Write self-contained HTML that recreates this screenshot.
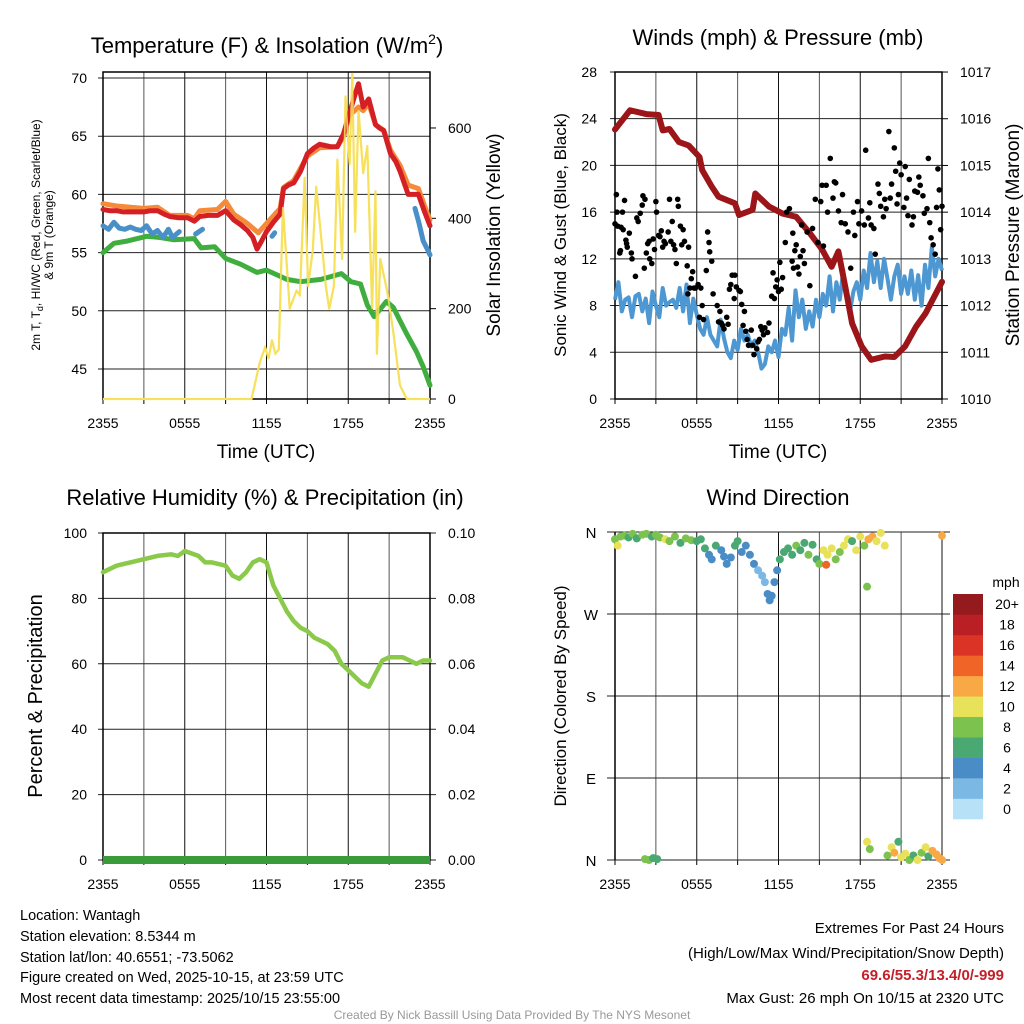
<!DOCTYPE html>
<html><head><meta charset="utf-8">
<style>
html,body{margin:0;padding:0;background:#fff;}
svg{display:block;font-family:"Liberation Sans",Arial,sans-serif;}
</style></head>
<body>
<svg id="c" xmlns="http://www.w3.org/2000/svg" width="1024" height="1024" viewBox="0 0 1024 1024">
<rect width="1024" height="1024" fill="#fff"/>
<text x="267" y="53" font-size="22" text-anchor="middle">Temperature (F) &amp; Insolation (W/m<tspan font-size="14" dy="-9">2</tspan><tspan dy="9">)</tspan></text>
<text x="778" y="45" font-size="22" text-anchor="middle">Winds (mph) &amp; Pressure (mb)</text>
<text x="265" y="505" font-size="22" text-anchor="middle">Relative Humidity (%) &amp; Precipitation (in)</text>
<text x="778" y="505" font-size="22" text-anchor="middle">Wind Direction</text>

<text x="266" y="458" font-size="19" text-anchor="middle">Time (UTC)</text>
<text x="778" y="458" font-size="19" text-anchor="middle">Time (UTC)</text>

<text transform="translate(40,235) rotate(-90)" font-size="12" text-anchor="middle">2m T, T<tspan font-size="9" dy="3">d</tspan><tspan dy="-3">, HI/WC (Red, Green, Scarlet/Blue)</tspan></text>
<text transform="translate(53,235) rotate(-90)" font-size="12" text-anchor="middle">&amp; 9m T (Orange)</text>
<text transform="translate(500,235) rotate(-90)" font-size="19" text-anchor="middle">Solar Insolation (Yellow)</text>
<text transform="translate(566,235) rotate(-90)" font-size="17" text-anchor="middle">Sonic Wind &amp; Gust (Blue, Black)</text>
<text transform="translate(1019,235) rotate(-90)" font-size="19" text-anchor="middle">Station Pressure (Maroon)</text>
<text transform="translate(42,696) rotate(-90)" font-size="20" text-anchor="middle">Percent &amp; Precipitation</text>
<text transform="translate(566,696) rotate(-90)" font-size="17" text-anchor="middle">Direction (Colored By Speed)</text>

<g font-size="14.5">
<text x="20" y="920">Location: Wantagh</text>
<text x="20" y="941">Station elevation: 8.5344 m</text>
<text x="20" y="962">Station lat/lon: 40.6551; -73.5062</text>
<text x="20" y="982">Figure created on Wed, 2025-10-15, at 23:59 UTC</text>
<text x="20" y="1003">Most recent data timestamp: 2025/10/15 23:55:00</text>
</g>
<g font-size="15" text-anchor="end">
<text x="1004" y="933">Extremes For Past 24 Hours</text>
<text x="1004" y="958">(High/Low/Max Wind/Precipitation/Snow Depth)</text>
<text x="1004" y="980" fill="#c4202a" font-weight="bold">69.6/55.3/13.4/0/-999</text>
<text x="1004" y="1003">Max Gust: 26 mph On 10/15 at 2320 UTC</text>
</g>
<text x="512" y="1019" font-size="12" fill="#999" text-anchor="middle">Created By Nick Bassill Using Data Provided By The NYS Mesonet</text>
</svg>
<script>
// ---------- data ----------
const xTickLabels = ["2355","0555","1155","1755","2355"];
const tempTicks = [45,50,55,60,65,70];
const solarTicks = [0,200,400,600];
const windTicks = [0,4,8,12,16,20,24,28];
const presTicks = [1010,1011,1012,1013,1014,1015,1016,1017];
const rhTicks = [0,20,40,60,80,100];
const precipTicks = ["0.00","0.02","0.04","0.06","0.08","0.10"];
const dirLabels = ["N","E","S","W","N"];
const dirTickVals = [0,90,180,270,360];

const redT = [0,0.5,1,1.5,2,2.5,3,3.5,4,4.5,4.9,5.5,6.2,6.7,7.1,7.7,8.4,9.0,9.6,10.1,10.6,11.0,11.3,11.6,12.0,12.5,13.0,13.25,13.6,14.0,14.5,15.0,15.5,15.9,16.3,16.7,17.2,17.65,18.1,18.4,18.75,19.1,19.5,20.0,20.3,20.6,21.1,21.5,21.8,22.1,22.4,22.8,23.15,23.6,24];
const redV = [58.7,58.6,58.6,58.5,58.5,58.5,58.5,58.6,58.6,58.3,58.1,58.0,58.0,57.7,58.1,58.2,58.2,58.6,57.8,57.4,56.9,56.3,55.3,55.9,56.8,57.6,58.3,60.5,60.8,61.0,62.0,63.5,64.0,64.3,64.2,64.1,64.1,65.2,67.0,68.2,69.5,67.5,68.2,66.0,65.7,65.5,63.5,62.8,62.0,61.0,60.0,60.0,60.0,58.5,57.3];
const orangeT = [0,1,2,3,4,4.9,5.5,6.2,6.7,7.1,8.4,9.0,9.6,10.6,11.4,12.0,13.0,13.25,14.0,15.0,15.9,17.2,17.65,18.1,18.75,19.1,19.5,20.0,20.6,21.1,21.8,22.4,23.15,23.6,24];
const orangeV = [59.2,59.0,58.9,58.8,58.9,58.2,58.2,58.2,57.9,58.6,58.7,59.4,58.3,57.5,56.7,57.5,58.8,60.6,61.2,63.3,64.0,64.1,65.0,66.8,67.5,67.2,67.8,66.0,65.5,63.8,62.5,60.8,60.5,59.0,57.8];
const blueT = [0,0.4,0.8,1.2,1.6,2.0,2.4,2.8,3.2,3.6,4.0,4.4,4.8,5.1,5.6,null,6.8,7.3,null,12.4,12.6,null,22.9,23.2,23.5,23.8,24];
const blueV = [57.3,57.0,57.6,57.1,57.0,57.2,57.0,56.9,57.3,56.6,56.9,56.3,57.0,56.3,56.8,null,56.6,57.0,null,56.4,56.7,null,58.8,57.5,56.0,55.3,54.8];
const greenT = [0,0.8,1.8,3.2,4.2,5.2,6.7,7.2,8.2,9.0,10.1,11.3,12.0,13.5,14.5,16.0,17.5,18.2,18.9,19.4,19.9,20.8,21.3,22.3,23.0,23.5,24];
const greenV = [55.0,55.8,56.0,56.4,56.3,56.1,56.2,55.4,55.5,54.5,54.0,53.3,53.5,52.7,52.5,52.7,53.2,52.5,52.3,50.5,49.5,50.8,50.3,48.0,46.5,45.2,43.6];
const solarT = [0,10.9,11.5,11.9,12.15,12.4,12.65,12.9,13.2,13.7,14.2,14.45,14.8,15.05,15.4,15.65,16.1,16.35,16.6,16.95,17.2,17.55,17.8,18.1,18.3,18.5,18.75,19.1,19.4,19.75,20.0,20.1,20.35,20.85,21.3,21.8,22.3,24];
const solarV = [0,0,80,115,90,130,100,110,425,200,240,230,490,250,330,470,330,250,200,250,530,310,670,520,720,370,640,500,560,200,460,100,310,240,150,30,0,0];

const windT = [];
for (let i = 0; i < 97; i++) windT.push(i * 0.25);
const windV = [8.5,10,7.5,8.5,8.7,7,8.8,9,7.5,8.6,6.5,9.2,8,
7,9.5,8,8.3,8.5,7.8,9.5,7.5,9.8,6.5,8.6,7.2,
6,5.5,7,5.5,5,4.5,6.8,5.2,4,3.5,5,4.2,
6,5,5.5,4.5,5,4,2.6,3,4.5,4,5,3.6,
6,5.5,7.8,5,9.3,7,8.5,6,7.5,6.2,8.5,7,
9,8,10.5,7.5,10,8.5,11,9,7.5,9.2,10,8.5,
11,9.5,12.5,10,11.8,9.5,12,10.3,8.5,10.5,11.5,9,
10.5,9,11,8.5,10.6,8,11.5,9.5,13,10.5,12,11];
const presT = [0,1.1,2.3,3.2,3.5,4.0,4.7,5.4,6.2,6.4,7.1,7.6,8.8,9.1,10.1,10.3,11.3,12.3,13.3,14.3,15.2,15.9,16.4,16.9,17.4,18.1,18.8,19.8,20.5,21.3,22.1,22.8,23.3,24];
const presV = [1015.77,1016.18,1016.1,1016.08,1015.75,1015.78,1015.5,1015.43,1015.18,1014.9,1014.55,1014.33,1014.19,1013.94,1014.05,1014.4,1014.12,1013.97,1013.9,1013.55,1013.2,1012.83,1013.16,1012.4,1011.62,1011.13,1010.84,1010.91,1010.9,1011.13,1011.55,1011.84,1012.12,1012.51];
const gustT = [0,0.1,0.15,0.2,0.35,0.4,0.45,0.55,0.6,0.7,0.8,0.85,0.9,1.05,1.2,1.25,1.5,1.6,1.7,1.85,2.0,2.05,2.15,2.2,2.3,2.4,2.5,2.55,2.7,2.8,2.9,3.0,3.05,3.2,3.3,3.4,3.5,3.6,3.7,3.9,4.0,4.1,4.2,4.3,4.4,4.5,4.6,4.65,4.8,4.9,5.0,5.1,5.3,5.35,5.4,5.5,5.6,5.7,5.8,5.9,6.1,6.2,6.3,6.4,6.5,6.7,6.8,6.9,6.95,7.1,7.2,7.5,7.6,7.7,7.8,7.9,8.0,8.2,8.3,8.4,8.5,8.6,8.75,8.8,8.9,9.1,9.2,9.3,9.4,9.5,9.6,9.7,9.8,10.0,10.1,10.2,10.4,10.5,10.6,10.7,10.8,10.9,11.0,11.2,11.3,11.5,11.6,11.7,11.8,11.9,12.0,12.1,12.2,12.3,12.5,12.6,12.8,13.0,13.05,13.1,13.2,13.3,13.4,13.5,13.6,13.7,13.8,13.9,14.1,14.3,14.5,14.7,14.9,15.1,15.2,15.3,15.5,15.6,15.8,16.0,16.1,16.2,16.4,16.6,16.7,16.9,17.1,17.3,17.5,17.6,17.8,17.9,18.1,18.3,18.4,18.6,18.7,18.8,19.0,19.1,19.3,19.4,19.5,19.7,19.8,19.9,20.1,20.2,20.3,20.5,20.6,20.7,20.8,20.9,21.0,21.2,21.3,21.4,21.5,21.6,21.8,21.9,22.0,22.2,22.3,22.4,22.6,22.7,22.9,23.0,23.1,23.2,23.35,23.5,23.6,23.7,23.8,23.9,24];
const gustV = [15,17.5,16,14.8,12.5,12.7,14.7,16,14.5,17,13.6,13.3,13,14.2,12.5,12,10.5,15.5,15.2,15.9,16.6,17.4,11.2,17.1,12.5,13.3,13.5,12,11.6,13.7,12.8,16.9,16,14,13.9,14.4,13,13.5,13.3,14.3,17.1,13.5,15.2,13.2,12.8,11.6,17.1,16.5,14.8,13.2,14.5,13.5,11.4,9,13,9.5,10.3,10.9,9.5,9.5,9.8,7,9.5,8,6.8,11,14.3,13.4,12.6,11.8,9,8,6.6,7.5,6.5,6.3,6,7,6.4,9.4,9.8,10.6,8.6,10.6,9.6,9.3,9.2,8.1,6.3,7.5,5.8,5.1,4.6,5.9,4.6,3.8,4.3,4.9,5.1,6.2,5.9,5.5,6.1,5.7,6.5,8.8,10.8,8.6,9.6,10.2,9.2,11.7,9.4,10.4,13.4,16,16.3,11.8,14.2,11.2,12.7,13.2,11.3,10.7,12.2,14.9,12.7,11.6,14.3,9.7,14.6,17.1,13.4,16.9,18.3,13.1,18.3,16,20.6,17.2,18.6,18.5,16.1,15.1,17.5,15,14.3,11.2,16,14,16.9,15,16.1,14.9,21.3,15.5,16.8,14.9,14.6,12.4,18.4,17.6,16.5,15.6,17.1,16.3,22.9,17.2,18.4,21.5,19.5,16.7,17.5,20.2,19.2,16.4,19.9,17.2,15.7,18.8,14.9,15.6,17.8,17.7,19,18.3,17.4,15.9,16.3,20.6,15.1,13.8,13.2,12.4,16.4,19.7,17.9,14.5,16.5,18.4,18.3,16.6,26,24.1,21.3,22,19];

const rhT = [0,1,2,3,4,5,5.5,6,7,7.5,8,9,9.5,10,10.5,11,11.5,12,12.5,13,13.5,14,14.5,15,15.5,16,16.5,17,17.5,18,18.5,19,19.5,20,20.5,21,21.5,22,22.5,23,23.5,24];
const rhV = [88,90,91,92,93,93.5,93,94.5,93,91,91,90,87,86,88,91,92,91,84,80,76,73,71,70,68,67,66,64,60,58,56,54,53,57,61,62,62,62,61,60,61,61];
const precipV = [0,0];

const dirT = [0,0.2,0.4,0.7,1.0,1.3,1.6,2.0,2.3,2.7,3.0,3.3,3.7,4.0,4.4,4.8,5.2,5.6,6.0,6.3,6.6,6.9,7.1,7.4,7.8,8.0,8.2,8.5,8.8,9.0,9.3,9.6,9.9,10.2,10.5,10.8,11.0,11.2,11.35,11.5,11.7,11.9,12.1,12.4,12.7,13.0,13.3,13.6,13.9,14.2,14.5,14.8,15.0,15.3,15.5,15.6,15.9,16.2,16.5,16.8,17.1,17.4,17.7,18.0,18.3,18.5,18.6,18.9,19.2,19.5,19.8,24,2.2,2.5,2.8,3.1,18.5,18.7,20.0,20.3,20.5,20.8,21.0,21.3,21.6,21.9,22.2,22.5,22.8,23.0,23.3,23.6,23.8,24];
const dirV = [352,345,355,356,354,358,353,357,358,355,357,354,352,350,355,348,353,351,350,352,342,335,330,345,340,333,325,332,345,350,338,345,335,325,318,312,305,292,285,290,305,318,330,338,342,335,345,340,348,335,346,330,325,340,324,335,342,330,338,345,352,350,340,355,345,300,352,355,350,359,345,356,1,0,2,1,20,12,5,14,8,20,3,7,0,5,0,8,14,4,10,6,2,0];
const dirSpd = [8,10,8,8,7,8,6,8,8,7,8,8,10,8,8,6,8,8,7,6,6,4,4,6,4,4,4,5,6,6,4,4,4,4,3,2,3,4,4,4,4,4,6,6,6,6,8,6,6,8,6,6,8,10,14,10,10,8,8,10,10,6,10,10,8,8,12,12,10,10,10,12,8,8,6,6,10,8,8,10,12,6,10,10,8,6,10,8,10,6,12,12,12,12];
const cbLabels = ["0","2","4","6","8","10","12","14","16","18","20+"];
const cbColors = ["#b6e1f6","#7bb8e3","#4a8dc6","#4aa873","#7cc24e","#e8e15a","#f8a946","#f06428","#dc3327","#bb1f26","#941a1d"];

// ---------- drawing ----------
const svg = document.getElementById('c');
const NS = "http://www.w3.org/2000/svg";
function el(tag, attrs, parent) {
  const e = document.createElementNS(NS, tag);
  for (const k in attrs) e.setAttribute(k, attrs[k]);
  (parent || svg).appendChild(e);
  return e;
}
function txt(x, y, s, size, anchor, parent) {
  const t = el('text', {x: x, y: y, 'font-size': size, 'text-anchor': anchor}, parent);
  t.textContent = s;
  return t;
}
function pathFrom(ts, vs, xf, yf) {
  let d = "", pen = false;
  for (let i = 0; i < ts.length; i++) {
    if (ts[i] === null || vs[i] === null) { pen = false; continue; }
    d += (pen ? "L" : "M") + xf(ts[i]).toFixed(1) + "," + yf(vs[i]).toFixed(1);
    pen = true;
  }
  return d;
}
function frame(x0, x1, yT, yB, name) {
  const g = el('g', {});
  
  
  for (let h = 0; h <= 24; h += 3) {
    const x = x0 + (x1 - x0) * h / 24;
    const l = el('line', {x1: x, x2: x, y1: yT, y2: yB, stroke: h % 6 ? '#555' : '#111', 'stroke-width': 1}, g);
    
    
    el('line', {x1: x, x2: x, y1: yB, y2: yB + 5, stroke: '#000'}, g);
  }
  return g;
}
function xLabels(x0, x1, y, name) {
  for (let i = 0; i < xTickLabels.length; i++) {
    const t = txt(x0 + (x1 - x0) * i / 4, y, xTickLabels[i], 14, 'middle');
    
    
  }
}

// Panel 1: Temperature
(function(){
  const x0 = 103, x1 = 430, yT = 72, yB = 399;
  const X = h => x0 + (x1 - x0) * h / 24;
  const Y = v => 78 + (70 - v) * 11.64;
  const YS = v => 399 - v * 0.4517;
  frame(x0, x1, yT, yB, 'temp');
  tempTicks.forEach(v => {
    const l = el('line', {x1: x0 - 5, x2: x1, y1: Y(v), y2: Y(v), stroke: '#222'});
    
    
    const t = txt(87, Y(v) + 5, String(v), 14, 'end');
    
    
  });
  solarTicks.forEach(v => {
    el('line', {x1: x1, x2: x1 + 6, y1: YS(v), y2: YS(v), stroke: '#000'});
    const t = txt(448, YS(v) + 5, String(v), 14, 'start');
    
    
  });
  el('rect', {x: x0, y: yT, width: x1 - x0, height: yB - yT, fill: 'none', stroke: '#000', 'stroke-width': 1.5});
  const s = el('path', {d: pathFrom(solarT, solarV, X, YS), fill: 'none', stroke: '#f7e15c', 'stroke-width': 2.2, 'stroke-linejoin': 'round'});
  
  
  const g = el('path', {d: pathFrom(greenT, greenV, X, Y), fill: 'none', stroke: '#3fae3f', 'stroke-width': 5, 'stroke-linejoin': 'round', 'stroke-linecap': 'round'});
  
  
  const b = el('path', {d: pathFrom(blueT, blueV, X, Y), fill: 'none', stroke: '#4a90c8', 'stroke-width': 5, 'stroke-linejoin': 'round', 'stroke-linecap': 'round'});
  
  
  const o = el('path', {d: pathFrom(orangeT, orangeV, X, Y), fill: 'none', stroke: '#f58a3a', 'stroke-width': 5, 'stroke-linejoin': 'round', 'stroke-linecap': 'round'});
  
  
  const r = el('path', {d: pathFrom(redT, redV, X, Y), fill: 'none', stroke: '#d42025', 'stroke-width': 5, 'stroke-linejoin': 'round', 'stroke-linecap': 'round'});
  
  
  el('path', {d: pathFrom(solarT, solarV, X, YS), fill: 'none', stroke: '#f7e15c', 'stroke-width': 1.8, opacity: 0.85});
  xLabels(x0, x1, 428, 'temp');
})();

// Panel 2: Winds
(function(){
  const x0 = 615, x1 = 942, yT = 72, yB = 399;
  const X = h => x0 + (x1 - x0) * h / 24;
  const Y = v => 399 - v * 11.68;
  const YP = p => 399 - (p - 1010) * 46.71;
  frame(x0, x1, yT, yB, 'wind');
  windTicks.forEach(v => {
    const l = el('line', {x1: x0 - 5, x2: x1, y1: Y(v), y2: Y(v), stroke: '#222'});
    
    
    const t = txt(597, Y(v) + 5, String(v), 14, 'end');
    
    
  });
  presTicks.forEach(v => {
    el('line', {x1: x1, x2: x1 + 6, y1: YP(v), y2: YP(v), stroke: '#000'});
    const t = txt(960, YP(v) + 5, String(v), 14, 'start');
    
    
  });
  el('rect', {x: x0, y: yT, width: x1 - x0, height: yB - yT, fill: 'none', stroke: '#000', 'stroke-width': 1.5});
  const w = el('path', {d: pathFrom(windT, windV, X, Y), fill: 'none', stroke: '#4d97d2', 'stroke-width': 4, 'stroke-linejoin': 'round'});
  
  
  const p = el('path', {d: pathFrom(presT, presV, X, YP), fill: 'none', stroke: '#9b1519', 'stroke-width': 6, 'stroke-linejoin': 'round', 'stroke-linecap': 'round'});
  
  
  for (let i = 0; i < gustT.length; i++) {
    const c = el('circle', {cx: X(gustT[i]), cy: Y(gustV[i]), r: 2.8, fill: '#000'});
    
    
  }
  xLabels(x0, x1, 428, 'wind');
})();

// Panel 3: RH
(function(){
  const x0 = 103, x1 = 430, yT = 533, yB = 860;
  const X = h => x0 + (x1 - x0) * h / 24;
  const Y = v => 860 - v * 3.27;
  frame(x0, x1, yT, yB, 'rh');
  rhTicks.forEach((v, i) => {
    const l = el('line', {x1: x0 - 5, x2: x1 + 6, y1: Y(v), y2: Y(v), stroke: '#222'});
    
    
    const t = txt(87, Y(v) + 5, String(v), 14, 'end');
    
    
    const t2 = txt(448, Y(v) + 5, precipTicks[i], 14, 'start');
    
    
  });
  el('rect', {x: x0, y: yT, width: x1 - x0, height: yB - yT, fill: 'none', stroke: '#000', 'stroke-width': 1.5});
  const pr = el('path', {d: pathFrom([0, 24], precipV, X, v => 860 - v * 3270), fill: 'none', stroke: '#3a9b3a', 'stroke-width': 8});
  
  
  const r = el('path', {d: pathFrom(rhT, rhV, X, Y), fill: 'none', stroke: '#8bc94a', 'stroke-width': 4.5, 'stroke-linejoin': 'round', 'stroke-linecap': 'round'});
  
  
  xLabels(x0, x1, 889, 'rh');
})();

// Panel 4: Wind direction
(function(){
  const x0 = 615, x1 = 942, yT = 532, yB = 860;
  const X = h => x0 + (x1 - x0) * h / 24;
  const Y = d => 860 - d * (328 / 360);
  frame(x0, x1, yT, yB, 'direction');
  dirTickVals.forEach((v, i) => {
    const l = el('line', {x1: x0 - 8, x2: x1 + 8, y1: Y(v), y2: Y(v), stroke: '#222'});
    
    
    const t = txt(591, Y(v) + 6, dirLabels[i], 15, 'middle');
    
    
  });
  el('line', {x1: x0, x2: x0, y1: yT, y2: yB, stroke: '#000', 'stroke-width': 1.5});
  for (let i = 0; i < dirT.length; i++) {
    const ci = Math.min(10, Math.floor(dirSpd[i] / 2));
    const c = el('circle', {cx: X(dirT[i]), cy: Y(dirV[i]), r: 4, fill: cbColors[ci]});
    
    
  }
  xLabels(x0, x1, 889, 'direction');
  const mph = txt(1006, 587, 'mph', 14, 'middle');
  
  
  const h = 225 / 11;
  for (let i = 0; i < 11; i++) {
    const y = 819 - (i + 1) * h;
    const r = el('rect', {x: 953, y: y, width: 30, height: h + 0.3, fill: cbColors[i]});
    
    
    const t = txt(1007, y + h / 2 + 5, cbLabels[i], 14, 'middle');
    
    
  }
})();
</script>
</body></html>
